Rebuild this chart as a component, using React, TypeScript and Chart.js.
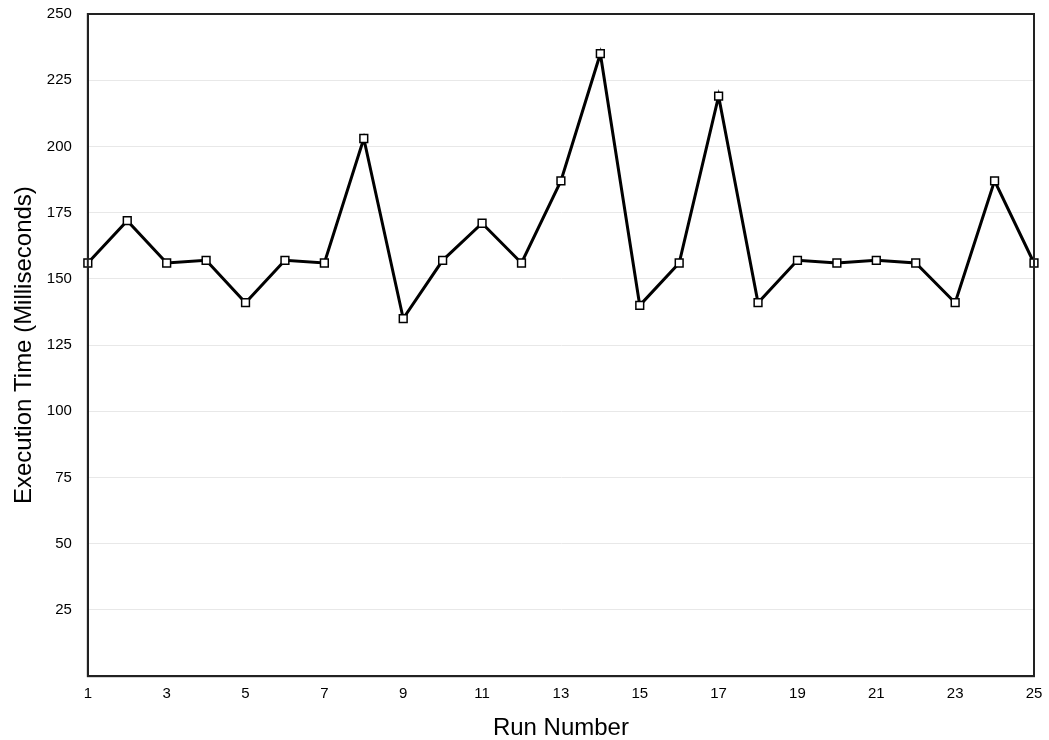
import React, { useEffect, useRef } from "react";
import { Chart, registerables } from "chart.js";
Chart.register(...registerables);

const runs = [1,2,3,4,5,6,7,8,9,10,11,12,13,14,15,16,17,18,19,20,21,22,23,24,25];
const execTimes = [156,172,156,157,141,157,156,203,135,157,171,156,187,235,140,156,219,141,157,156,157,156,141,187,156];
const yTitle = "Execution Time (Milliseconds)";
const xTitle = "Run Number";

export default function App() {
  const ref = useRef<HTMLCanvasElement>(null);
  useEffect(() => {
    document.body.style.margin = "0";
    const font = "'Liberation Sans', Arial, Helvetica, sans-serif";
    const chart = new Chart(ref.current!, {
      type: "line",
      data: {
        datasets: [{
          data: runs.map((r, i) => ({ x: r, y: execTimes[i] })),
          borderColor: "#000",
          borderWidth: 3,
          pointStyle: "rect",
          pointRadius: 5.5,
          pointBackgroundColor: "#fff",
          pointBorderColor: "#000",
          pointBorderWidth: 1.5,
          tension: 0,
          clip: false,
        }],
      },
      options: {
        animation: false,
        responsive: false,
        layout: { padding: { top: 0, right: 0, left: 0, bottom: -3 } },
        plugins: { legend: { display: false }, tooltip: { enabled: false } },
        scales: {
          x: {
            type: "linear",
            min: 1,
            max: 25,
            afterFit: (s: any) => { s.paddingRight = 15; s.paddingLeft = 0; },
            ticks: { stepSize: 2, color: "#000", font: { family: font, size: 15 }, padding: 9 },
            grid: { display: false, drawTicks: false },
            border: { color: "#222", width: 2 },
            title: { display: true, text: xTitle, color: "#000", font: { family: font, size: 24 }, padding: { top: 2, bottom: 0 } },
          },
          y: {
            min: 0,
            max: 250,
            afterFit: (s: any) => { s.paddingTop = 14; s.paddingBottom = 0; },
            ticks: {
              stepSize: 25,
              color: "#000",
              font: { family: font, size: 15 },
              padding: 16,
              callback: (v: any) => (v === 0 ? "" : String(v)),
            },
            grid: { color: "#e8e8e8", lineWidth: 1, drawTicks: false },
            border: { color: "#222", width: 2 },
            title: { display: true, text: yTitle, color: "#000", font: { family: font, size: 24 }, padding: { top: 10, bottom: -8 } },
          },
        },
      },
      plugins: [{
        id: "frame",
        afterDatasetsDraw(c: any) {
          const { ctx, chartArea: a } = c;
          ctx.save();
          ctx.strokeStyle = "#222";
          ctx.lineWidth = 2;
          ctx.strokeRect(a.left, a.top, a.right - a.left, a.bottom - a.top);
          ctx.restore();
        },
      }],
    });
    return () => chart.destroy();
  }, []);
  return <canvas ref={ref} width={1049} height={740} style={{ display: "block" }} />;
}
